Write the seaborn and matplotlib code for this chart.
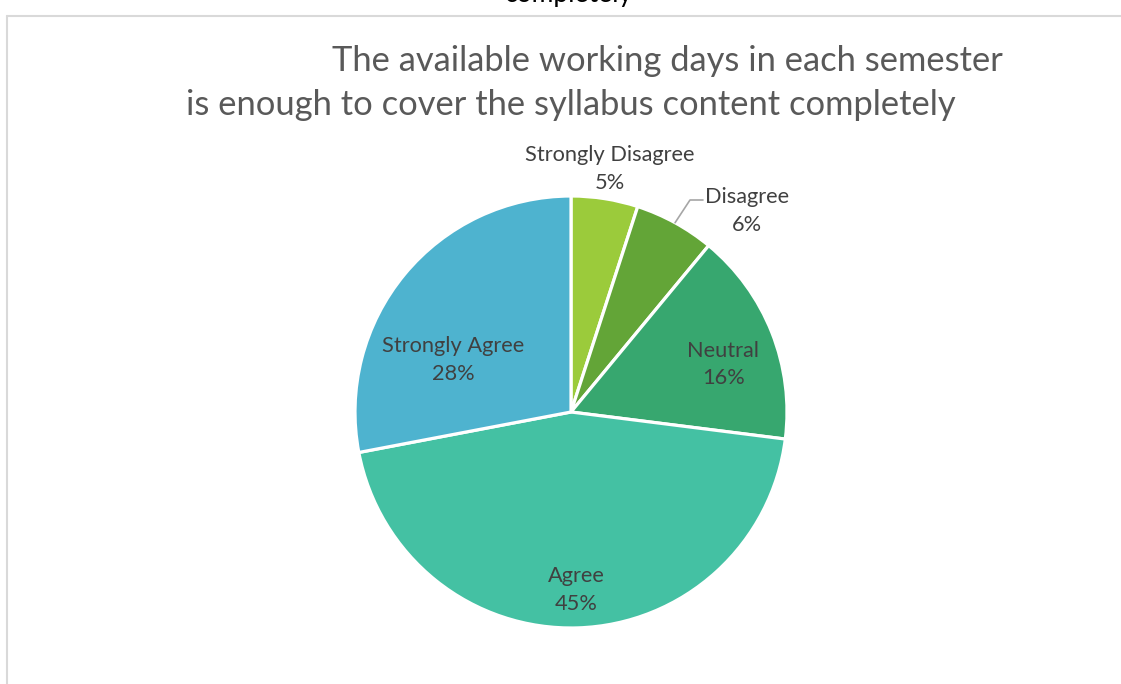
import matplotlib
matplotlib.use("Agg")
import matplotlib.pyplot as plt
from matplotlib.lines import Line2D
import numpy as np
import seaborn as sns

# Survey responses
categories = ["Strongly Disagree", "Disagree", "Neutral", "Agree", "Strongly Agree"]
shares = [5, 6, 16, 45, 28]
colors = ["#9BCB3B", "#63A537", "#37A76F", "#44C1A3", "#4EB3CF"]

title_line1 = "The available working days in each semester"
title_line2 = "is enough to cover the syllabus content completely"
clipped_caption = "completely"

sns.set_theme(style="white")
plt.rcParams["font.family"] = ["Lato", "DejaVu Sans"]

W, H = 1121, 684
fig = plt.figure(figsize=(W / 100, H / 100), dpi=100)
fig.patch.set_facecolor("white")

# frame of the chart area (top and left edges visible)
fig.add_artist(Line2D([7 / W, 1], [1 - 16 / H, 1 - 16 / H], color="#D9D9D9", lw=1.5))
fig.add_artist(Line2D([7 / W, 7 / W], [1 - 16 / H, 0], color="#D9D9D9", lw=1.5))

# caption above the frame, partly outside the canvas
fig.text(569 / W, 1 - 2 / H, clipped_caption, ha="center", va="baseline",
         fontsize=19, color="black")

fig.text(667 / W, 1 - 61 / H, title_line1, ha="center", va="center",
         fontsize=24.8, color="#595959")
fig.text(571 / W, 1 - 105 / H, title_line2, ha="center", va="center",
         fontsize=24.8, color="#595959")

cx, cy, r = 571, 412, 216
ax = fig.add_axes([(cx - r) / W, (H - cy - r) / H, 2 * r / W, 2 * r / H])
wedges, _ = ax.pie(shares, colors=colors, startangle=90, counterclock=False,
                   radius=1, wedgeprops=dict(edgecolor="white", linewidth=2.3))
ax.set_xlim(-1, 1)
ax.set_ylim(-1, 1)
ax.set_aspect("equal")
ax.axis("off")

# label centres in pie-radius units
label_pos = [(0.18, 1.125), (0.815, 0.93), (0.705, 0.22), (0.025, -0.825), (-0.545, 0.24)]
for cat, val, (lx, ly) in zip(categories, shares, label_pos):
    ax.text(lx, ly, f"{cat}\n{val}%", ha="center", va="center", fontsize=15.7,
            color="#404040", linespacing=1.48, clip_on=False)

# leader line for the small "Disagree" slice
w = wedges[1]
mid = np.deg2rad((w.theta1 + w.theta2) / 2)
ax.plot([np.cos(mid), (690 - cx) / r, (703 - cx) / r],
        [np.sin(mid), (cy - 200) / r, (cy - 200) / r],
        color="#A6A6A6", lw=1.2, clip_on=False)

fig.savefig("out.png", dpi=100, facecolor="white")
